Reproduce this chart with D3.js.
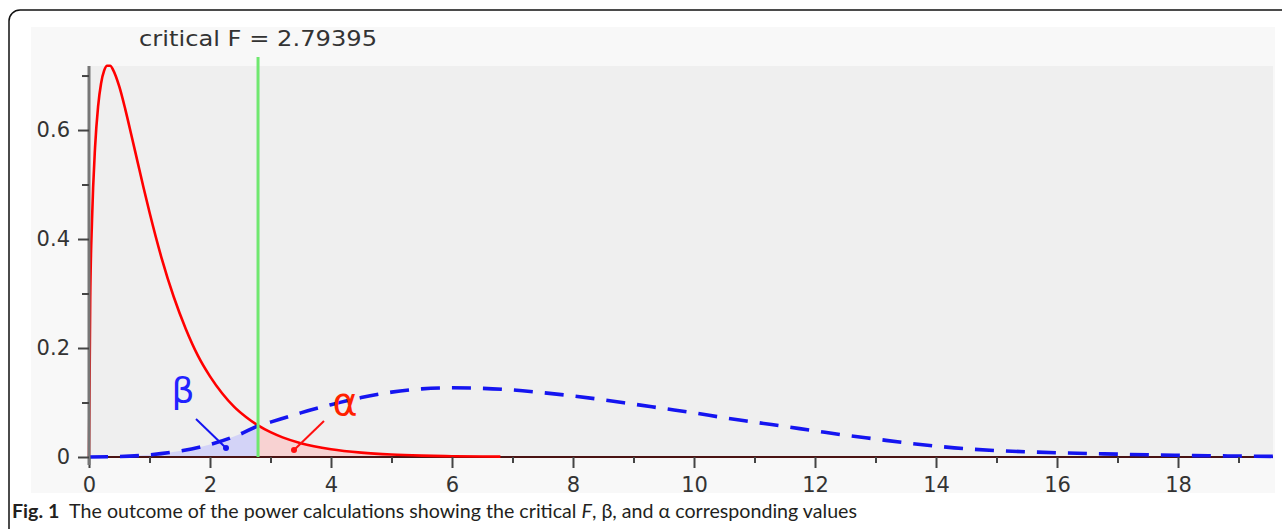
<!DOCTYPE html>
<html>
<head>
<meta charset="utf-8">
<script src="https://cdn.jsdelivr.net/npm/d3@7"></script>
<style>
  body { margin: 0; background: #fff; }
  svg { display: block; }
</style>
</head>
<body>
<div id="chart"></div>
<script>
// Critical value of F
const critF = 2.79395;

// Central F density (red)
const redX = [0, 0.02, 0.05, 0.1, 0.15, 0.2, 0.25, 0.3, 0.35, 0.4, 0.5, 0.6, 0.7, 0.8, 0.9, 1.0,
  1.2, 1.4, 1.6, 1.8, 2.0, 2.2, 2.4, 2.6, 2.79395, 3.0, 3.2, 3.5, 4.0, 4.5, 5.0, 5.5, 6.0, 6.5, 6.8];
const redY = [0, 0.288, 0.435, 0.568, 0.643, 0.686, 0.709, 0.718, 0.718, 0.710, 0.680, 0.638, 0.591, 0.543, 0.495, 0.449,
  0.365, 0.294, 0.235, 0.186, 0.148, 0.117, 0.092, 0.073, 0.058, 0.0455, 0.036, 0.0253, 0.0142, 0.0080, 0.0045, 0.0026, 0.0015, 0.0009, 0.0007];

// Noncentral F density (blue dashed)
const blueX = [0, 0.5, 1, 1.5, 2, 2.5, 2.79395, 3, 3.5, 4, 4.5, 5, 5.5, 6, 6.5, 7, 7.5, 8, 8.5, 9, 9.5, 10,
  10.5, 11, 11.5, 12, 12.5, 13, 13.5, 14, 14.5, 15, 15.5, 16, 16.5, 17, 17.5, 18, 18.5, 19, 19.57];
const blueY = [0, 0.0008, 0.004, 0.011, 0.023, 0.042, 0.057, 0.064, 0.081, 0.096, 0.109, 0.119, 0.125, 0.127, 0.126, 0.123, 0.118, 0.112, 0.105, 0.097, 0.089, 0.081,
  0.072, 0.064, 0.056, 0.048, 0.040, 0.033, 0.026, 0.020, 0.015, 0.0118, 0.0095, 0.0078, 0.0064, 0.0052, 0.0040, 0.0030, 0.0023, 0.0017, 0.0012];

// Tick values
const xMajor = [0, 2, 4, 6, 8, 10, 12, 14, 16, 18];
const xMinor = [1, 3, 5, 7, 9, 11, 13, 15, 17, 19];
const yMajor = [0, 0.2, 0.4, 0.6];
const yMinor = [0.1, 0.3, 0.5, 0.7];

const W = 1282, H = 529;

const svg = d3.select("#chart").append("svg")
    .attr("width", W)
    .attr("height", H);

// outer frame with rounded corner
svg.append("rect")
    .attr("x", 9).attr("y", 10)
    .attr("width", 1300).attr("height", 560)
    .attr("rx", 11)
    .style("fill", "white")
    .style("stroke", "#111")
    .style("stroke-width", 1.5);

// chart panel
svg.append("rect")
    .attr("x", 31).attr("y", 27)
    .attr("width", 1244).attr("height", 466)
    .style("fill", "#f8f8f8");

const x = d3.scaleLinear().domain([0, 19.57]).range([89, 1273]);
const y = d3.scaleLinear().domain([0, 0.7175]).range([457, 66]);

// plot area
svg.append("rect")
    .attr("x", x(0)).attr("y", y(0.7175))
    .attr("width", x(19.57) - x(0)).attr("height", y(0) - y(0.7175))
    .style("fill", "#efefef");

const red = redX.map((d, i) => [d, redY[i]]);
const blue = blueX.map((d, i) => [d, blueY[i]]);

// shaded beta area (blue, left of critical F)
const area = d3.area()
    .x(d => x(d[0]))
    .y0(y(0))
    .y1(d => y(d[1]))
    .curve(d3.curveMonotoneX);

svg.append("path")
    .datum(blue.filter(d => d[0] <= critF))
    .attr("d", area)
    .style("fill", "#d3d3f7");

// shaded alpha area (red, right of critical F)
svg.append("path")
    .datum(red.filter(d => d[0] >= critF))
    .attr("d", area)
    .style("fill", "#f8d2d2");

const line = d3.line()
    .x(d => x(d[0]))
    .y(d => y(d[1]))
    .curve(d3.curveMonotoneX);

// x axis line
svg.append("line")
    .attr("x1", x(0)).attr("x2", x(19.57))
    .attr("y1", y(0)).attr("y2", y(0))
    .style("stroke", "#4a1414")
    .style("stroke-width", 2);

// red curve
svg.append("path")
    .datum(red)
    .attr("d", line)
    .style("fill", "none")
    .style("stroke", "#ff0000")
    .style("stroke-width", 2.6);

// blue dashed curve
svg.append("path")
    .datum(blue)
    .attr("d", line)
    .style("fill", "none")
    .style("stroke", "#1515f0")
    .style("stroke-width", 3.6)
    .style("stroke-dasharray", "19,12");

// critical F line
svg.append("line")
    .attr("x1", x(critF)).attr("x2", x(critF))
    .attr("y1", 57).attr("y2", y(0))
    .style("stroke", "#6fe86f")
    .style("stroke-width", 3);

// axes
const tickFont = "'DejaVu Sans', sans-serif";

const xAxis = svg.append("g")
    .attr("transform", `translate(0, ${y(0)})`)
    .call(d3.axisBottom(x).tickValues(xMajor).tickSize(11).tickPadding(9).tickFormat(d3.format("d")));
xAxis.select(".domain").remove();

const xAxisMinor = svg.append("g")
    .attr("transform", `translate(0, ${y(0)})`)
    .call(d3.axisBottom(x).tickValues(xMinor).tickSize(6).tickFormat(""));
xAxisMinor.select(".domain").remove();

// y axis line
svg.append("line")
    .attr("x1", x(0)).attr("x2", x(0))
    .attr("y1", y(0.7175)).attr("y2", y(0) + 8)
    .style("stroke", "#777")
    .style("stroke-width", 3);

const yAxis = svg.append("g")
    .attr("transform", `translate(${x(0)}, 0)`)
    .call(d3.axisLeft(y).tickValues(yMajor).tickSize(11).tickPadding(8)
        .tickFormat(d => d === 0 ? "0" : d3.format(".1f")(d)));
yAxis.select(".domain").remove();

const yAxisMinor = svg.append("g")
    .attr("transform", `translate(${x(0)}, 0)`)
    .call(d3.axisLeft(y).tickValues(yMinor).tickSize(7).tickFormat(""));
yAxisMinor.select(".domain").remove();

svg.selectAll(".tick line")
    .style("stroke", "#444")
    .style("stroke-width", 2);

svg.selectAll(".tick text")
    .style("font-family", tickFont)
    .style("font-size", "21px")
    .style("fill", "#333");

// title above the critical line
svg.append("text")
    .attr("x", x(critF))
    .attr("y", 46)
    .attr("text-anchor", "middle")
    .attr("textLength", 238)
    .attr("lengthAdjust", "spacingAndGlyphs")
    .style("font-family", tickFont)
    .style("font-size", "21px")
    .style("fill", "#333")
    .text("critical F = 2.79395");

// beta pointer
svg.append("line")
    .attr("x1", 196).attr("y1", 419)
    .attr("x2", 226).attr("y2", 448)
    .style("stroke", "#1515f0")
    .style("stroke-width", 2);
svg.append("circle")
    .attr("cx", 226).attr("cy", 448).attr("r", 3)
    .style("fill", "#1515f0");
svg.append("text")
    .attr("x", 183).attr("y", 403)
    .attr("text-anchor", "middle")
    .style("font-family", tickFont)
    .style("font-size", "36px")
    .style("fill", "#2222ff")
    .text("β");

// alpha pointer
svg.append("line")
    .attr("x1", 324).attr("y1", 421)
    .attr("x2", 294).attr("y2", 450)
    .style("stroke", "#ff1010")
    .style("stroke-width", 2);
svg.append("circle")
    .attr("cx", 294).attr("cy", 450).attr("r", 3)
    .style("fill", "#ff1010");
svg.append("text")
    .attr("x", 345).attr("y", 415)
    .attr("text-anchor", "middle")
    .style("font-family", tickFont)
    .style("font-size", "38px")
    .style("fill", "#ff2200")
    .text("α");

// caption
const cap = svg.append("text")
    .attr("x", 12)
    .attr("y", 518)
    .attr("textLength", 845)
    .attr("lengthAdjust", "spacingAndGlyphs")
    .style("font-family", "Lato, sans-serif")
    .style("font-size", "19px")
    .style("fill", "#231f20");
cap.append("tspan").style("font-weight", "bold").text("Fig. 1");
cap.append("tspan").text("\u2002The outcome of the power calculations showing the critical ");
cap.append("tspan").style("font-style", "italic").text("F");
cap.append("tspan").text(", β, and α corresponding values");
</script>
</body>
</html>
